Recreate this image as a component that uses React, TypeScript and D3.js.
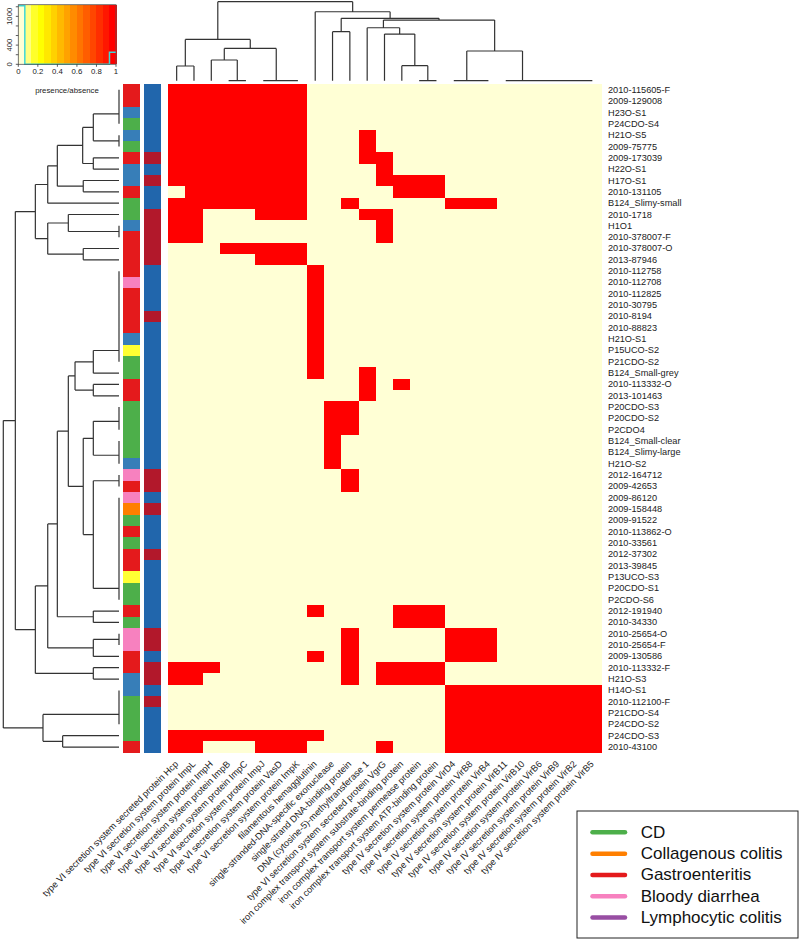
import React from "react";
import * as d3 from "d3";

// ---------------- data ----------------
const colLabels = [
  "type VI secretion system secreted protein Hcp",
  "type VI secretion system protein ImpL",
  "type VI secretion system protein ImpH",
  "type VI secretion system protein ImpB",
  "type VI secretion system protein ImpC",
  "type VI secretion system protein ImpJ",
  "type VI secretion system protein VasD",
  "type VI secretion system protein ImpK",
  "filamentous hemagglutinin",
  "single-stranded-DNA-specific exonuclease",
  "single-strand DNA-binding protein",
  "DNA (cytosine-5)-methyltransferase 1",
  "type VI secretion system secreted protein VgrG",
  "iron complex transport system substrate-binding protein",
  "iron complex transport system permease protein",
  "iron complex transport system ATP-binding protein",
  "type IV secretion system protein VirD4",
  "type IV secretion system protein VirB8",
  "type IV secretion system protein VirB4",
  "type IV secretion system protein VirB11",
  "type IV secretion system protein VirB10",
  "type IV secretion system protein VirB6",
  "type IV secretion system protein VirB9",
  "type IV secretion system protein VirB2",
  "type IV secretion system protein VirB5",
];

const rowLabels = [
  "2010-115605-F", "2009-129008", "H23O-S1", "P24CDO-S4", "H21O-S5", "2009-75775",
  "2009-173039", "H22O-S1", "H17O-S1", "2010-131105", "B124_Slimy-small", "2010-1718",
  "H1O1", "2010-378007-F", "2010-378007-O", "2013-87946", "2010-112758", "2010-112708",
  "2010-112825", "2010-30795", "2010-8194", "2010-88823", "H21O-S1", "P15UCO-S2",
  "P21CDO-S2", "B124_Small-grey", "2010-113332-O", "2013-101463", "P20CDO-S3", "P20CDO-S2",
  "P2CDO4", "B124_Small-clear", "B124_Slimy-large", "H21O-S2", "2012-164712", "2009-42653",
  "2009-86120", "2009-158448", "2009-91522", "2010-113862-O", "2010-33561", "2012-37302",
  "2013-39845", "P13UCO-S3", "P20CDO-S1", "P2CDO-S6", "2012-191940", "2010-34330",
  "2010-25654-O", "2010-25654-F", "2009-130586", "2010-113332-F", "H21O-S3", "H14O-S1",
  "2010-112100-F", "P21CDO-S4", "P24CDO-S2", "P24CDO-S3", "2010-43100",
];

// presence (1) / absence (0) per row, one char per column
const presence = [
  "1111111100000000000000000",
  "1111111100000000000000000",
  "1111111100000000000000000",
  "1111111100000000000000000",
  "1111111100010000000000000",
  "1111111100010000000000000",
  "1111111100011000000000000",
  "1111111100001000000000000",
  "1111111100001111000000000",
  "0111111100000111000000000",
  "1111111100100000111000000",
  "1100011100011000000000000",
  "1100000000001000000000000",
  "1100000000001000000000000",
  "0001111100000000000000000",
  "0000011100000000000000000",
  "0000000010000000000000000",
  "0000000010000000000000000",
  "0000000010000000000000000",
  "0000000010000000000000000",
  "0000000010000000000000000",
  "0000000010000000000000000",
  "0000000010000000000000000",
  "0000000010000000000000000",
  "0000000010000000000000000",
  "0000000010010000000000000",
  "0000000000010100000000000",
  "0000000000010000000000000",
  "0000000001100000000000000",
  "0000000001100000000000000",
  "0000000001100000000000000",
  "0000000001000000000000000",
  "0000000001000000000000000",
  "0000000001000000000000000",
  "0000000000100000000000000",
  "0000000000100000000000000",
  "0000000000000000000000000",
  "0000000000000000000000000",
  "0000000000000000000000000",
  "0000000000000000000000000",
  "0000000000000000000000000",
  "0000000000000000000000000",
  "0000000000000000000000000",
  "0000000000000000000000000",
  "0000000000000000000000000",
  "0000000000000000000000000",
  "0000000010000111000000000",
  "0000000000000111000000000",
  "0000000000100000111000000",
  "0000000000100000111000000",
  "0000000010100000111000000",
  "1110000000101111000000000",
  "1100000000101111000000000",
  "0000000000000000111111111",
  "0000000000000000111111111",
  "0000000000000000111111111",
  "0000000000000000111111111",
  "1111111110000000111111111",
  "1100011100001000111111111",
];

// disease group per row (HC = healthy, UC = ulcerative colitis)
const diseaseGroup = [
  "GE", "GE", "HC", "CD", "HC", "CD", "GE", "HC", "HC", "GE",
  "CD", "CD", "HC", "GE", "GE", "GE", "GE", "BD", "GE", "GE",
  "GE", "GE", "HC", "UC", "CD", "CD", "GE", "GE", "CD", "CD",
  "CD", "CD", "CD", "HC", "BD", "GE", "BD", "CC", "CD", "GE",
  "CD", "GE", "GE", "UC", "CD", "CD", "GE", "CD", "BD", "BD",
  "GE", "GE", "HC", "HC", "CD", "CD", "CD", "CD", "GE",
];

// second side bar group per row
const sideGroup = [
  "A", "A", "A", "A", "A", "A", "B", "A", "B", "A",
  "A", "B", "B", "B", "B", "B", "A", "A", "A", "A",
  "B", "A", "A", "A", "A", "A", "A", "A", "A", "A",
  "A", "A", "A", "A", "B", "B", "A", "B", "A", "A",
  "A", "B", "A", "A", "A", "A", "A", "A", "B", "B",
  "A", "B", "B", "A", "B", "A", "A", "A", "A",
];

const legendKeys = ["CD", "CC", "GE", "BD", "LC"];
const legendNames = ["CD", "Collagenous colitis", "Gastroenteritis", "Bloody diarrhea", "Lymphocytic colitis"];
const diseaseColors: Record<string, string> = {
  CD: "#4DAF4A", CC: "#FF7F00", GE: "#E41A1C", BD: "#F781BF", LC: "#984EA3",
  HC: "#377EB8", UC: "#FFFF33",
};
const sideColors: Record<string, string> = { A: "#2166AC", B: "#B2182B" };

// dendrograms: [height, child, child, ...] ; extra children are merged left-nested at same height
type Tree = number | (number | Tree)[];
const colTree: Tree = [1.0,
  [0.523,
    [0.186, 1, 2],
    [0.409,
      [0.262, 3, [0, 4, 5]],
      [0, 6, [0, 7, 8]]]],
  [0.873,
    9,
    [0.789,
      [0.62, 10, 11],
      [0.768,
        [0.67, 12, [0.59, 13, [0.19, 14, [0, 15, 16]]]],
        [0.376,
          [0, 17, [0, 18, 19]],
          [0, 20, [0, 21, [0, 22, [0, 23, [0, 24, 25]]]]]]]]]];

const rowTree: Tree = [1.0,
  [0.896,
    [0.723,
      [0.616,
        [0.533,
          [0.314,
            [0.222, [0, 1, 2, 3, 4], [0, 5, 6]],
            [0.222, 7, 8]],
          [0.309, 9, 10]],
        11],
      [0.616,
        [0.438, 12, [0, 13, 14]],
        [0.309, 15, 16]]],
    [0.723,
      [0.616,
        [0.533,
          [0.438,
            [0.38,
              [0.222, [0, 17, 18, 19, 20, 21, 22, 23, 24, 25], 26],
              [0.222, 27, 28]],
            [0.309,
              [0.222, [0, 29, 30, 31], [0, 32, 33, 34]],
              [0.222, [0, 35, 36], [0, 37, 38, 39, 40, 41, 42, 43, 44, 45, 46]]]],
          [0.222, 47, 48]],
        [0.222, [0, 49, 50], 51]],
      [0.222, 52, 53]]],
  [0.657, [0, 54, 55, 56, 57], [0.487, 58, 59]]];

const keyXTicks = [0, 0.2, 0.4, 0.6, 0.8, 1];
const keyYTicks = [0, 200, 400, 600, 800, 1000, 1200];
const keyYLabelled = [0, 400, 1000];
const nKeyColors = 15;

// ---------------- helpers ----------------
function heatColorsRev(n: number): string[] {
  const j = Math.floor(n / 4);
  const i = n - j;
  const cols: string[] = [];
  for (let k = 0; k < i; k++) {
    const h = (i > 1 ? k / (i - 1) : 0) * (1 / 6);
    cols.push(d3.hsl(h * 360, 1, 0.5).formatHex());
  }
  for (let k = 0; k < j; k++) {
    const s = j > 1 ? (1 - 1 / (2 * j)) + (k * ((1 / (2 * j)) - (1 - 1 / (2 * j)))) / (j - 1) : 0.5;
    const b = Math.round(255 * (1 - s));
    cols.push(d3.rgb(255, 255, b).formatHex());
  }
  return cols.reverse();
}

function dendroSegs(tree: Tree, pos: (i: number) => number) {
  const segs: [number, number, number, number][] = [];
  function rec(t: Tree): { p: number; h: number } {
    if (typeof t === "number") return { p: pos(t), h: 0 };
    const h = t[0] as number;
    let acc = rec(t[1] as Tree);
    for (let k = 2; k < t.length; k++) {
      const b = rec(t[k] as Tree);
      segs.push([acc.p, acc.h, acc.p, h]);
      segs.push([acc.p, h, b.p, h]);
      segs.push([b.p, b.h, b.p, h]);
      acc = { p: (acc.p + b.p) / 2, h };
    }
    return acc;
  }
  rec(tree);
  return segs;
}

const FONT = "'Liberation Sans', Arial, Helvetica, sans-serif";

export default function App() {
  const W = 800, H = 941;
  const palette = heatColorsRev(nKeyColors);
  const matrix = presence.map((s) => s.split("").map(Number));

  const x = d3.scaleBand<number>().domain(d3.range(colLabels.length)).range([168, 601]);
  const y = d3.scaleBand<number>().domain(d3.range(rowLabels.length)).range([84.2, 752.7]);
  const fill = d3.scaleQuantize<string>().domain([0, 1]).range(palette);

  const colH = d3.scaleLinear().domain([0, 1]).range([80.7, 1.7]);
  const rowH = d3.scaleLinear().domain([0, 1]).range([119, 3.3]);

  const colSegs = dendroSegs(colTree, (i) => (x(i - 1) as number) + x.bandwidth() / 2);
  const rowSegs = dendroSegs(rowTree, (i) => (y(i - 1) as number) + y.bandwidth() / 2);
  const colPath = colSegs.map(([p1, h1, p2, h2]) => `M${p1},${colH(h1)}L${p2},${colH(h2)}`).join("");
  const rowPath = rowSegs.map(([p1, h1, p2, h2]) => `M${rowH(h1)},${p1}L${rowH(h2)},${p2}`).join("");

  // color key histogram
  const values = matrix.flat();
  const bins = d3.range(nKeyColors).map((b) =>
    values.filter((v) => Math.min(nKeyColors - 1, Math.floor(v * nKeyColors)) === b).length);
  const maxCount = d3.max(bins) as number;
  const kx = d3.scaleLinear().domain([0, 1]).range([18.3, 116]);
  const ky = d3.scaleLinear().domain([0, maxCount]).range([64.3, 5.7]);
  const stepPts: [number, number][] = [];
  bins.forEach((c, b) => {
    stepPts.push([b / nKeyColors, c]);
    stepPts.push([(b + 1) / nKeyColors, c]);
  });
  const histLine = d3.line<[number, number]>().x((d) => kx(d[0])).y((d) => ky(d[1]))(stepPts) as string;

  const legendY = d3.scaleLinear().domain([0, legendKeys.length - 1]).range([832.3, 917.6]);

  return (
    <svg width={W} height={H} style={{ position: "absolute", left: 0, top: 0, background: "#fff" }}
      fontFamily={FONT}>
      {/* color key */}
      <g>
        <g shapeRendering="crispEdges">
          {palette.map((c, i) => (
            <rect key={i} x={kx(i / nKeyColors)} y={4.7} width={kx((i + 1) / nKeyColors) - kx(i / nKeyColors) + 0.5}
              height={64.3 - 4.7} fill={c} />
          ))}
        </g>
        <path d={histLine} fill="none" stroke="#3ed8d8" strokeWidth={1.5} />
        <rect x={18.3} y={4.7} width={116 - 18.3} height={64.3 - 4.7} fill="none" stroke="#555" strokeWidth={0.8} />
        {keyXTicks.map((t) => (
          <g key={t}>
            <line x1={kx(t)} x2={kx(t)} y1={64.3} y2={66.8} stroke="#333" strokeWidth={0.8} />
            <text x={kx(t)} y={71.5} fontSize={7.8} textAnchor="middle" dominantBaseline="central" fill="#222">{String(t)}</text>
          </g>
        ))}
        {keyYTicks.filter((t) => ky(t) >= 4.7).map((t) => (
          <line key={t} x1={15.8} x2={18.3} y1={ky(t)} y2={ky(t)} stroke="#333" strokeWidth={0.8} />
        ))}
        {keyYLabelled.map((t) => (
          <text key={t} transform={`translate(9.5,${ky(t)}) rotate(-90)`} fontSize={7.8} textAnchor="middle"
            dominantBaseline="central" fill="#222">{String(t)}</text>
        ))}
        <text x={67} y={90.5} fontSize={7.8} textAnchor="middle" dominantBaseline="central" fill="#222">presence/absence</text>
      </g>

      {/* dendrograms */}
      <path d={colPath} fill="none" stroke="#333" strokeWidth={1.2} />
      <path d={rowPath} fill="none" stroke="#333" strokeWidth={1.2} />

      {/* side color bars */}
      <g shapeRendering="crispEdges">
        {diseaseGroup.map((g, i) => (
          <rect key={"d" + i} x={123.3} y={y(i)} width={16.7} height={y.bandwidth() + 0.5} fill={diseaseColors[g]} />
        ))}
        {sideGroup.map((g, i) => (
          <rect key={"s" + i} x={144} y={y(i)} width={16.7} height={y.bandwidth() + 0.5} fill={sideColors[g]} />
        ))}
      </g>

      {/* heatmap */}
      <g shapeRendering="crispEdges">
        {matrix.map((row, i) =>
          row.map((v, j) => (
            <rect key={i + "-" + j} x={x(j)} y={y(i)} width={x.bandwidth() + 0.5} height={y.bandwidth() + 0.5}
              fill={fill(v)} />
          ))
        )}
      </g>

      {/* row labels */}
      {rowLabels.map((l, i) => (
        <text key={l + i} x={608} y={(y(i) as number) + y.bandwidth() / 2} fontSize={9.2} dominantBaseline="central"
          fill="#222">{l}</text>
      ))}

      {/* column labels */}
      {colLabels.map((l, j) => (
        <text key={l} transform={`translate(${(x(j) as number) + x.bandwidth() / 2},762.5) rotate(-45)`}
          fontSize={9.2} textAnchor="end" dominantBaseline="central" fill="#222">{l}</text>
      ))}

      {/* legend */}
      <rect x={577} y={811} width={221} height={127} fill="#fff" stroke="#222" strokeWidth={1} />
      {legendKeys.map((k, i) => (
        <g key={k}>
          <line x1={592.5} x2={625} y1={legendY(i)} y2={legendY(i)} stroke={diseaseColors[k]} strokeWidth={4.5}
            strokeLinecap="round" />
          <text x={640.7} y={legendY(i)} fontSize={17} dominantBaseline="central" fill="#111">{legendNames[i]}</text>
        </g>
      ))}
    </svg>
  );
}
